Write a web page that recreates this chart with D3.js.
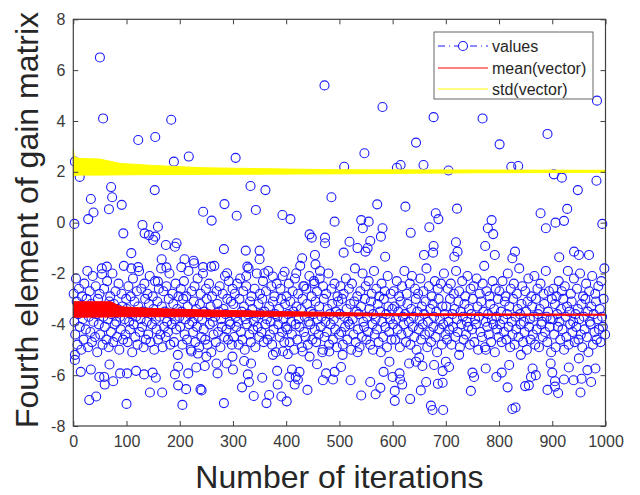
<!DOCTYPE html>
<html>
<head>
<meta charset="utf-8">
<script src="https://cdn.jsdelivr.net/npm/d3@7"></script>
<style>
  body { margin: 0; background: #fff; }
  text { font-family: "Liberation Sans", Arial, sans-serif; }
</style>
</head>
<body>
<svg id="chart" width="640" height="495"></svg>
<script>
// ---- data ----
const xTicks = [0, 100, 200, 300, 400, 500, 600, 700, 800, 900, 1000];
const yTicks = [-8, -6, -4, -2, 0, 2, 4, 6, 8];

// points that stand clear of the dense band: [iteration, value]
const loosePoints = [
  [50,6.5],[56,4.1],[122,3.25],[154,3.37],[184,4.05],[217,2.6],[189,2.4],[305,2.55],[3,2.4],[12,1.8],
  [71,1.4],[73,1.0],[33,0.93],[38,0.4],[28,0.14],[67,0.53],[91,0.7],[153,1.28],[2,-0.05],[94,-0.42],
  [130,-0.09],[134,-0.42],[142,-0.49],[159,-0.16],[154,-0.55],[150,-0.68],[109,-1.2],[174,-0.88],[194,-0.81],[191,-0.95],
  [166,-1.44],[209,-1.44],[226,-1.5],[244,0.43],[260,0.08],[284,0.73],[307,0.27],[333,1.44],[361,1.28],[343,0.5],
  [393,0.3],[408,0.14],[283,-1.04],[324,-1.1],[350,-1.1],[350,-1.44],[444,-0.46],[448,-0.59],[473,-0.59],[473,-0.81],
  [430,-1.4],[454,-1.27],[485,1.0],[491,0.04],[472,5.4],[581,4.55],[984,4.8],[677,4.15],[769,4.1],[891,3.49],
  [644,3.15],[801,3.08],[547,2.73],[509,2.2],[608,2.16],[615,2.27],[658,2.27],[705,2.05],[823,2.2],[836,2.23],
  [903,1.9],[918,1.77],[983,1.65],[948,1.28],[571,0.72],[624,0.63],[681,0.37],[686,0.14],[721,0.55],[878,0.37],
  [928,0.54],[541,0.1],[555,0.04],[544,-0.22],[581,-0.22],[578,-0.55],[634,-0.4],[669,-0.18],[786,0.1],[779,-0.22],
  [789,-0.45],[888,-0.22],[906,0.0],[922,0.07],[994,-0.05],[519,-0.75],[534,-1.0],[553,-1.0],[558,-0.72],[549,-1.14],
  [508,-1.18],[586,-1.34],[659,-1.27],[677,-0.92],[676,-1.18],[719,-0.77],[722,-1.14],[716,-1.34],[774,-0.92],[792,-1.27],
  [830,-1.14],[825,-1.4],[913,-1.36],[941,-1.14],[950,-1.27],[969,-1.27],
  [63,-1.73],[54,-2.03],[109,-1.8],[122,-1.75],[175,-1.76],[203,-1.75],[227,-1.6],[244,-1.75],[159,-2.32],
  [455,-1.64],[259,-1.73],[289,-1.99],[327,-1.73],[325,-2.1],[359,-1.99],[375,-2.12],[397,-1.93],[419,-1.99],[434,-2.5],
  [453,-2.4],[463,-2.2],
  [3,-5.2],[3,-5.4],[14,-5.87],[33,-5.78],[49,-6.07],[58,-6.07],[59,-6.37],[68,-5.58],[75,-6.24],[88,-5.93],
  [101,-5.93],[118,-5.83],[133,-5.97],[149,-5.9],[155,-6.1],[30,-6.98],[43,-6.84],[100,-7.13],[144,-6.68],[167,-6.68],
  [205,-7.17],[191,-5.97],[197,-5.67],[197,-6.4],[212,-6.55],[216,-5.93],[231,-5.7],[239,-6.55],[241,-6.6],[247,-5.64],
  [250,-5.27],[234,-5.15],[222,-5.07],[271,-5.93],[269,-5.54],[283,-7.1],[288,-5.54],[300,-5.78],[299,-5.27],[317,-6.48],
  [321,-5.44],[328,-5.97],[330,-6.27],[334,-5.54],[339,-6.82],[355,-6.1],[363,-7.1],[368,-6.78],[375,-5.2],[383,-5.83],
  [384,-6.37],[391,-6.84],[401,-7.03],[406,-6.07],[411,-5.78],[418,-6.07],[422,-6.17],[425,-5.87],[416,-6.37],[440,-6.58],
  [458,-5.57],[469,-6.2],[475,-5.93],[488,-6.17],[491,-5.87],[394,-5.07],[403,-5.17],[431,-5.07],[444,-5.27],[469,-5.0],
  [481,-5.07],
  [503,-5.68],[521,-6.2],[541,-6.8],[558,-6.27],[568,-6.75],[577,-6.5],[583,-5.87],[594,-5.47],[600,-6.07],[604,-7.01],
  [604,-6.62],[613,-5.93],[614,-6.17],[618,-6.37],[633,-6.94],[631,-5.54],[653,-6.6],[663,-6.27],[672,-7.2],[675,-7.37],
  [695,-7.37],[685,-6.34],[694,-6.3],[694,-5.84],[678,-5.6],[700,-5.47],[706,-5.68],[747,-6.62],[750,-5.9],[753,-6.07],
  [775,-5.74],[795,-6.07],[805,-5.9],[816,-6.48],[819,-5.6],[825,-7.33],[831,-7.27],[849,-6.43],[856,-6.4],[860,-6.07],
  [869,-6.0],[863,-5.74],[891,-6.58],[905,-6.45],[911,-6.7],[905,-6.24],[900,-5.9],[922,-6.17],[940,-6.2],[953,-6.68],
  [955,-6.14],[966,-5.8],[973,-6.27],[981,-5.74],[931,-5.7],[950,-5.34],[897,-5.54],[841,-5.2],[775,-5.0],[725,-5.2],
  [644,-5.47],[650,-5.3],[656,-5.64],[563,-5.0],[534,-5.1],[506,-5.2]
];

// dense band, one row per block of 100 iterations (estimated)
const bandRows = [
  [-2.8,-3.9,-4.4,-2.2,-3.1,-4.8,-3.6,-2.6,-4.1,-3.3,-5.0,-2.9,-3.8,-4.6,-2.4,-3.5,-4.2,-3.0,-1.9,-4.9,-3.7,-2.7,-4.3,-3.2,-4.7,-2.1,-3.9,-3.4,-4.5,-2.5,-3.6,-5.1,-3.0,-4.0,-2.8,-4.4,-3.3,-1.8,-4.8,-3.7,-2.6,-4.1,-3.5,-4.6,-2.3,-3.8,-4.9,-3.1,-2.9,-4.3,-3.6,-2.0,-4.7,-3.2,-4.0,-2.7,-3.9,-4.5,-3.4,-2.4,-5.0,-3.7,-4.2,-2.8,-3.3,-4.6,-1.7,-3.8,-4.4,-3.0],
  [-3.4,-4.7,-2.5,-3.9,-4.2,-2.9,-3.6,-5.1,-2.2,-4.0,-3.1,-4.5,-3.7,-2.7,-4.8,-3.3,-1.9,-4.3,-3.8,-2.6,-4.1,-3.5,-4.9,-2.4,-3.0,-4.6,-3.9,-2.8,-4.4,-3.2,-2.1,-4.7,-3.6,-4.0,-2.9,-3.4,-5.0,-2.3,-3.8,-4.2,-3.1,-4.6,-2.6,-3.7,-4.4,-1.8,-3.3,-4.9,-2.7,-4.1,-3.5,-4.5,-2.5,-3.9,-4.3,-3.0,-2.0,-4.8,-3.6,-4.0,-2.8,-3.2,-4.7,-3.8,-2.4,-4.2,-3.4,-5.2,-2.9,-3.7],
  [-4.1,-2.6,-3.5,-4.8,-3.0,-2.3,-4.4,-3.8,-2.9,-4.6,-3.3,-1.9,-4.0,-3.6,-5.0,-2.7,-3.9,-4.3,-3.1,-2.5,-4.7,-3.4,-4.1,-2.2,-3.7,-4.9,-3.2,-2.8,-4.5,-3.8,-2.0,-4.2,-3.5,-4.6,-2.6,-3.0,-4.8,-3.6,-2.4,-4.0,-3.3,-5.1,-2.9,-3.9,-4.4,-1.7,-3.7,-4.7,-2.7,-3.2,-4.3,-3.5,-2.5,-4.9,-3.8,-4.1,-2.8,-3.4,-4.5,-2.1,-3.6,-4.2,-3.0,-4.6,-2.3,-3.9,-4.0,-3.1,-4.8,-2.6],
  [-3.2,-4.5,-2.8,-3.7,-4.1,-2.4,-3.9,-4.8,-3.0,-2.2,-4.3,-3.5,-4.6,-2.7,-3.3,-5.0,-3.8,-2.5,-4.0,-3.6,-1.8,-4.4,-3.1,-4.7,-2.9,-3.4,-4.2,-3.9,-2.6,-4.9,-3.7,-2.0,-4.1,-3.2,-4.5,-2.8,-3.6,-4.3,-3.0,-2.3,-4.7,-3.5,-4.0,-2.7,-3.8,-4.6,-1.9,-3.3,-4.4,-3.9,-2.5,-4.8,-3.1,-4.2,-2.9,-3.6,-5.1,-2.4,-3.7,-4.0,-3.4,-4.5,-2.6,-3.0,-4.3,-2.1,-3.8,-4.7,-3.2,-4.1],
  [-2.9,-4.2,-3.6,-2.4,-4.7,-3.1,-3.9,-4.4,-2.7,-3.5,-5.0,-2.2,-4.0,-3.3,-4.6,-2.8,-3.8,-4.1,-1.7,-3.4,-4.9,-3.0,-2.5,-4.3,-3.7,-4.5,-2.6,-3.2,-4.8,-3.9,-2.1,-4.0,-3.5,-2.9,-4.6,-3.6,-2.3,-4.2,-3.1,-4.7,-2.7,-3.8,-4.4,-3.3,-1.9,-4.1,-3.7,-5.1,-2.5,-3.0,-4.5,-3.9,-2.8,-4.3,-3.4,-2.0,-4.8,-3.6,-4.0,-2.6,-3.2,-4.6,-3.8,-2.4,-4.2,-3.5,-4.9,-2.9,-3.1,-4.4],
  [-3.6,-2.5,-4.3,-3.0,-4.8,-2.8,-3.7,-4.1,-2.2,-3.4,-4.6,-3.9,-2.6,-4.0,-3.2,-5.0,-2.4,-3.8,-4.4,-3.1,-1.8,-4.7,-3.5,-2.9,-4.2,-3.6,-4.9,-2.7,-3.3,-4.5,-2.0,-3.9,-4.1,-3.0,-2.5,-4.6,-3.7,-4.3,-2.3,-3.4,-4.8,-3.1,-2.8,-4.0,-3.6,-1.9,-4.4,-3.8,-2.6,-4.2,-3.2,-4.7,-2.9,-3.5,-5.1,-2.4,-3.9,-4.5,-3.0,-2.7,-4.1,-3.6,-4.9,-2.1,-3.3,-4.3,-3.8,-2.8,-4.6,-3.4],
  [-4.0,-2.7,-3.3,-4.6,-3.8,-2.3,-4.2,-3.5,-2.9,-4.9,-3.1,-4.4,-2.5,-3.7,-4.0,-1.9,-3.6,-4.7,-2.8,-3.2,-4.3,-3.9,-2.4,-4.8,-3.4,-2.1,-4.1,-3.7,-4.5,-2.6,-3.0,-5.0,-3.5,-2.8,-4.2,-3.8,-2.2,-4.6,-3.3,-4.0,-2.7,-3.6,-4.4,-3.1,-1.8,-4.9,-3.9,-2.5,-4.3,-3.4,-4.7,-2.9,-3.2,-4.1,-3.7,-2.3,-4.5,-3.5,-5.1,-2.6,-3.0,-4.2,-3.8,-2.4,-4.8,-3.3,-4.0,-2.0,-3.6,-4.4],
  [-3.3,-4.6,-2.6,-3.9,-4.2,-3.0,-2.4,-4.8,-3.6,-4.1,-2.8,-3.4,-4.5,-1.9,-3.8,-4.3,-3.1,-2.7,-4.9,-3.5,-4.0,-2.3,-3.7,-4.6,-3.2,-2.9,-4.4,-3.9,-2.1,-4.1,-3.4,-4.8,-2.6,-3.6,-4.2,-3.0,-2.5,-4.7,-3.8,-4.0,-2.2,-3.3,-5.0,-3.7,-2.8,-4.3,-3.1,-4.5,-2.4,-3.5,-1.7,-4.9,-3.9,-2.7,-4.1,-3.6,-4.4,-2.9,-3.2,-4.7,-3.8,-2.3,-4.0,-3.4,-5.1,-2.6,-3.7,-4.2,-3.0,-4.5],
  [-2.7,-4.0,-3.5,-4.7,-2.3,-3.8,-4.3,-3.1,-2.9,-4.6,-3.6,-2.0,-4.1,-3.3,-4.9,-2.6,-3.9,-4.4,-3.0,-2.4,-4.8,-3.7,-4.2,-2.8,-3.4,-4.5,-1.8,-3.6,-4.0,-3.2,-2.5,-4.7,-3.9,-4.3,-2.7,-3.5,-5.0,-3.1,-2.2,-4.1,-3.8,-4.6,-2.9,-3.3,-4.4,-3.7,-2.1,-4.8,-3.0,-4.2,-2.6,-3.6,-4.9,-3.4,-2.4,-4.0,-3.9,-4.5,-2.8,-3.2,-4.3,-1.9,-3.7,-4.7,-3.5,-2.7,-4.1,-3.8,-5.1,-3.0],
  [-3.8,-2.6,-4.4,-3.2,-4.9,-2.9,-3.6,-4.1,-2.3,-3.9,-4.6,-3.4,-2.7,-4.2,-3.0,-5.0,-2.5,-3.7,-4.5,-3.3,-1.9,-4.8,-3.5,-4.0,-2.8,-3.1,-4.3,-3.9,-2.2,-4.7,-3.6,-4.1,-2.6,-3.4,-4.6,-3.8,-2.0,-4.4,-3.2,-4.9,-2.9,-3.7,-4.2,-3.0,-2.4,-4.5,-3.5,-5.1,-2.7,-3.9,-4.0,-3.3,-2.1,-4.8,-3.6,-4.3,-2.8,-3.1,-4.6,-3.8,-2.5,-4.2,-3.4,-4.7,-2.3,-3.7,-4.1,-3.0,-1.8,-4.4]
];

// running mean drawn as a thin envelope (upper / lower edge)
const meanIter = [0, 70, 90, 150, 256, 400, 509, 600, 800, 1000];
const meanHigh = [-3.11, -3.11, -3.31, -3.38, -3.44, -3.5, -3.54, -3.58, -3.59, -3.6];
const meanLow  = [-3.72, -3.71, -3.70, -3.70, -3.70, -3.68, -3.67, -3.66, -3.65, -3.64];

// running std envelope
const stdIter = [0, 2, 10, 50, 88, 150, 244, 494, 750, 1000];
const stdHigh = [2.9, 2.6, 2.53, 2.5, 2.33, 2.25, 2.16, 2.08, 2.07, 2.06];
const stdLow  = [1.8, 1.85, 1.87, 1.87, 1.88, 1.89, 1.9, 1.92, 1.96, 1.98];

const legendLabels = ["values", "mean(vector)", "std(vector)"];

// ---- drawing ----
const svg = d3.select("#chart");
const plotLeft = 73.3, plotRight = 605.5, plotTop = 19.3, plotBottom = 426;
const axisColor = "#404040";

const x = d3.scaleLinear().domain([0, 1000]).range([plotLeft, plotRight]);
const y = d3.scaleLinear().domain([-8, 8]).range([plotBottom, plotTop]);

// build the scatter from the two point sets
let points = loosePoints.map(p => ({ i: p[0], v: p[1] }));
bandRows.forEach((row, b) => {
    row.forEach((v, k) => {
        points.push({ i: b * 100 + (k + 0.5) * 100 / row.length, v: v });
    });
});
points.sort((a, b) => a.i - b.i);

svg.append("g")
    .selectAll("circle")
    .data(points)
    .enter().append("circle")
    .attr("cx", d => x(d.i))
    .attr("cy", d => y(d.v))
    .attr("r", 4.5)
    .attr("fill", "none")
    .attr("stroke", "#1a1aff")
    .attr("stroke-width", 1.1);

const meanData = meanIter.map((m, k) => ({ i: m, hi: meanHigh[k], lo: meanLow[k] }));
const stdData = stdIter.map((s, k) => ({ i: s, hi: stdHigh[k], lo: stdLow[k] }));

const band = d3.area()
    .x(d => x(d.i))
    .y0(d => y(d.lo))
    .y1(d => y(d.hi));

svg.append("path")
    .datum(meanData)
    .attr("d", band)
    .attr("fill", "#ff0000")
    .attr("stroke", "#ff0000")
    .attr("stroke-width", 1);

svg.append("path")
    .datum(stdData)
    .attr("d", band)
    .attr("fill", "#ffff00")
    .attr("stroke", "#ffff00")
    .attr("stroke-width", 1);

// axes: box with inward ticks on all sides
const tickLen = 5;
const plainNum = d => String(d);
const xAxisBottom = d3.axisBottom(x).tickValues(xTicks).tickSize(-tickLen).tickPadding(10).tickFormat(plainNum);
const xAxisTop = d3.axisTop(x).tickValues(xTicks).tickSize(-tickLen).tickFormat("");
const yAxisLeft = d3.axisLeft(y).tickValues(yTicks).tickSize(-tickLen).tickPadding(8).tickFormat(plainNum);
const yAxisRight = d3.axisRight(y).tickValues(yTicks).tickSize(-tickLen).tickFormat("");

function styleAxis(g) {
    g.select(".domain").remove();
    g.selectAll(".tick line").attr("stroke", axisColor);
    g.selectAll(".tick text")
        .attr("fill", "#3a3a3a")
        .style("font-family", "'Liberation Sans', Arial, sans-serif")
        .style("font-size", "16px");
}

svg.append("g").attr("transform", `translate(0,${plotBottom})`).call(xAxisBottom).call(styleAxis);
svg.append("g").attr("transform", `translate(0,${plotTop})`).call(xAxisTop).call(styleAxis);
svg.append("g").attr("transform", `translate(${plotLeft},0)`).call(yAxisLeft).call(styleAxis);
svg.append("g").attr("transform", `translate(${plotRight},0)`).call(yAxisRight).call(styleAxis);

svg.append("rect")
    .attr("x", plotLeft).attr("y", plotTop)
    .attr("width", plotRight - plotLeft).attr("height", plotBottom - plotTop)
    .attr("fill", "none")
    .attr("stroke", axisColor)
    .attr("stroke-width", 1.2);

// axis titles
svg.append("text")
    .attr("x", (plotLeft + plotRight) / 2)
    .attr("y", 488)
    .attr("text-anchor", "middle")
    .attr("fill", "#262626")
    .style("font-size", "32px")
    .text("Number of iterations");

svg.append("text")
    .attr("transform", "translate(38,220) rotate(-90)")
    .attr("text-anchor", "middle")
    .attr("fill", "#262626")
    .style("font-size", "32px")
    .text("Fourth element of gain matrix");

// legend
const legend = svg.append("g");
legend.append("rect")
    .attr("x", 434).attr("y", 32)
    .attr("width", 159).attr("height", 67)
    .attr("fill", "#fff")
    .attr("stroke", axisColor)
    .attr("stroke-width", 0.8);

const rowsY = [46, 68, 89];
legend.append("line")
    .attr("x1", 438).attr("x2", 488).attr("y1", rowsY[0]).attr("y2", rowsY[0])
    .attr("stroke", "#1a1aff").attr("stroke-width", 1)
    .attr("stroke-dasharray", "7,4,1,4");
legend.append("circle")
    .attr("cx", 463).attr("cy", rowsY[0]).attr("r", 4.5)
    .attr("fill", "#fff").attr("stroke", "#1a1aff").attr("stroke-width", 1.1);
legend.append("line")
    .attr("x1", 438).attr("x2", 488).attr("y1", rowsY[1]).attr("y2", rowsY[1])
    .attr("stroke", "#ff0000").attr("stroke-width", 1);
legend.append("line")
    .attr("x1", 438).attr("x2", 488).attr("y1", rowsY[2]).attr("y2", rowsY[2])
    .attr("stroke", "#ffff00").attr("stroke-width", 1);

legend.selectAll("text.lab")
    .data(legendLabels)
    .enter().append("text")
    .attr("class", "lab")
    .attr("x", 492)
    .attr("y", (d, k) => rowsY[k])
    .attr("dy", "0.35em")
    .attr("fill", "#262626")
    .style("font-size", "16px")
    .text(d => d);
</script>
</body>
</html>
